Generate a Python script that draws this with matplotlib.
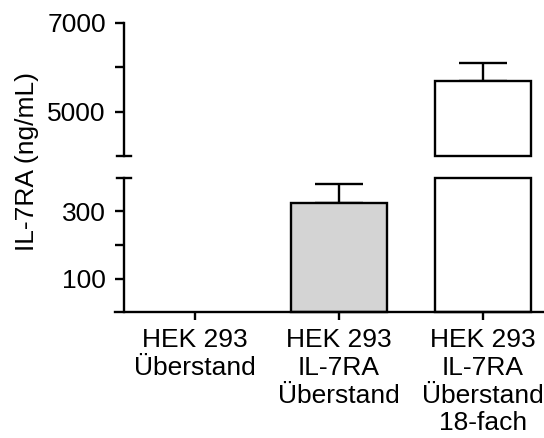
import matplotlib

matplotlib.use("Agg")
import matplotlib.pyplot as plt
from matplotlib.lines import Line2D

plt.rcParams["font.family"] = ["Liberation Sans", "DejaVu Sans"]

# data
categories = ["HEK 293\nÜberstand", "HEK 293\nIL-7RA\nÜberstand", "HEK 293\nIL-7RA\nÜberstand\n18-fach"]
values = [0.0, 325.0, 5690.0]
errors = [0.0, 57.0, 417.0]
colors = ["white", "#d4d4d4", "white"]

low_lim = (0, 400)
high_lim = (4000, 7000)
low_ticks = [100, 200, 300, 400]
low_labels = ["100", "", "300", ""]
high_ticks = [5000, 6000, 7000]
high_labels = ["5000", "", "7000"]

FS = 19
LW = 1.7
W, H = 544, 438

fig = plt.figure(figsize=(W / 100, H / 100), dpi=100)
left, right = 115 / W, 1.0
ax_hi = fig.add_axes([left, 1 - 156 / H, right - left, 133 / H])
ax_lo = fig.add_axes([left, 1 - 312 / H, right - left, 134 / H])

x = list(range(len(categories)))
xlim = ((115 - 195) / 144, (544 - 195) / 144)
spine_frac = 9 / 429
bw = 96 / 144

for ax, (lo, hi) in ((ax_lo, low_lim), (ax_hi, high_lim)):
    ax.set_xlim(*xlim)
    ax.set_ylim(lo, hi)
    for i in x:
        v = values[i]
        if v <= lo:
            continue
        top = min(v, hi)
        ax.bar(i, top - lo, bottom=lo, width=bw, color=colors[i],
               edgecolor="black", linewidth=LW, clip_on=False, zorder=2)
        if errors[i] > 0 and v <= hi:
            ax.errorbar(i, v, yerr=[[0], [errors[i]]], fmt="none",
                        ecolor="black", elinewidth=LW, capsize=17.6,
                        capthick=LW, zorder=1)
    for s in ("top", "right"):
        ax.spines[s].set_visible(False)
    ax.spines["left"].set_position(("axes", spine_frac))
    ax.spines["left"].set_linewidth(LW)
    ax.tick_params(axis="y", length=6.5, width=LW, pad=6.5, labelsize=FS)

ax_hi.spines["bottom"].set_visible(False)
ax_hi.set_xticks([])
ax_hi.set_yticks(high_ticks)
ax_hi.set_yticklabels(high_labels)

ax_lo.set_yticks(low_ticks)
ax_lo.set_yticklabels(low_labels)
ax_lo.spines["bottom"].set_linewidth(LW)
ax_lo.set_xticks(x)
ax_lo.set_xticklabels(categories, fontsize=FS, linespacing=1.2)
ax_lo.tick_params(axis="x", length=6, width=LW, pad=5.5)

# break caps on the y axis (no tick at the top of the low segment)
ax_lo.yaxis.get_major_ticks()[-1].tick1line.set_visible(False)
for ax, ypos in ((ax_hi, 0.0), (ax_lo, 1.0)):
    ax.add_line(Line2D([spine_frac - 0.017, spine_frac + 0.017], [ypos, ypos],
                       transform=ax.transAxes, color="black", lw=LW,
                       clip_on=False))

fig.text(27 / W, 1 - 162 / H, "IL-7RA (ng/mL)", rotation=90, fontsize=FS,
         ha="center", va="center")

fig.savefig("out.png", dpi=100)
